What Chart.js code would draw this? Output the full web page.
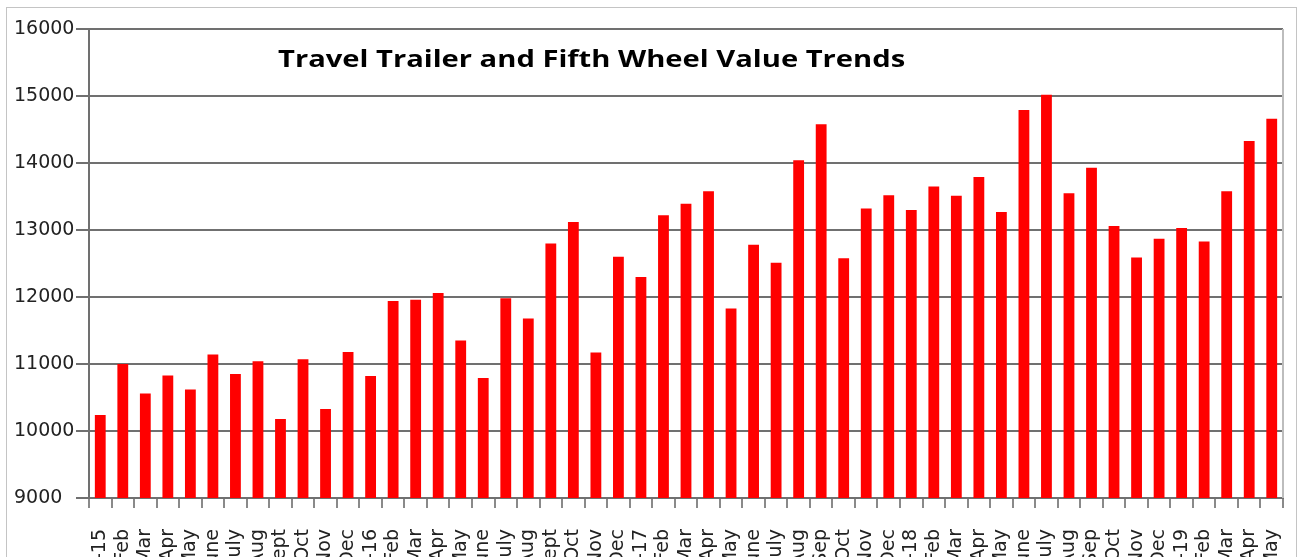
<!DOCTYPE html>
<html>
<head>
<meta charset="utf-8">
<title>Travel Trailer and Fifth Wheel Value Trends</title>
<script src="https://cdn.jsdelivr.net/npm/chart.js@4/dist/chart.umd.min.js"></script>
<style>
  html, body { margin: 0; padding: 0; background: #fff; overflow: hidden; }
  #wrap { position: absolute; left: 0; top: 0; width: 1298px; height: 620px; }
</style>
</head>
<body>
<div id="wrap"><canvas id="chart"></canvas></div>
<script>
// month labels, Jan-15 .. May-19
const months = [
  'Jan-15', 'Feb', 'Mar', 'Apr', 'May', 'June', 'July', 'Aug', 'Sept', 'Oct', 'Nov', 'Dec',
  'Jan-16', 'Feb', 'Mar', 'Apr', 'May', 'June', 'July', 'Aug', 'Sept', 'Oct', 'Nov', 'Dec',
  'Jan-17', 'Feb', 'Mar', 'Apr', 'May', 'June', 'July', 'Aug', 'Sep', 'Oct', 'Nov', 'Dec',
  'Jan-18', 'Feb', 'Mar', 'Apr', 'May', 'June', 'July', 'Aug', 'Sep', 'Oct', 'Nov', 'Dec',
  'Jan-19', 'Feb', 'Mar', 'Apr', 'May'
];

// average value per month
const values = [
  10240, 11000, 10560, 10830, 10620, 11140, 10850, 11040, 10180, 11070, 10330, 11180,
  10820, 11940, 11960, 12060, 11350, 10790, 11980, 11680, 12800, 13120, 11170, 12600,
  12300, 13220, 13390, 13580, 11830, 12780, 12510, 14040, 14580, 12580, 13320, 13520,
  13300, 13650, 13510, 13790, 13270, 14790, 15020, 13550, 13930, 13060, 12590, 12870,
  13030, 12830, 13580, 14330, 14660
];

const yMin = 9000;
const yMax = 16000;
const yStep = 1000;

const chartTitle = 'Travel Trailer and Fifth Wheel Value Trends';

// frame + in-plot title, excel style
const framePlugin = {
  id: 'frame',
  beforeDraw(chart) {
    const ctx = chart.ctx;
    ctx.save();
    ctx.strokeStyle = '#c4c4c4';
    ctx.lineWidth = 1;
    ctx.strokeRect(6.5, 7.5, 1290, 700);
    ctx.restore();
  },
  afterDraw(chart) {
    const ctx = chart.ctx;
    const area = chart.chartArea;
    ctx.save();
    ctx.strokeStyle = '#bdbdbd';
    ctx.lineWidth = 2;
    ctx.beginPath();
    ctx.moveTo(area.right, area.top);
    ctx.lineTo(area.right, area.bottom);
    ctx.stroke();

    // the original title is a bit wider than the font, stretch it
    ctx.fillStyle = '#000';
    ctx.font = 'bold 24px "Open Sans"';
    ctx.textAlign = 'left';
    ctx.textBaseline = 'alphabetic';
    ctx.translate(278, 67);
    ctx.scale(1.215, 1);
    ctx.fillText(chartTitle, 0, 0);
    ctx.restore();
  }
};

const canvas = document.getElementById('chart');

new Chart(canvas, {
  type: 'bar',
  data: {
    labels: months,
    datasets: [{
      data: values,
      backgroundColor: '#ff0000',
      borderWidth: 0,
      categoryPercentage: 1,
      barPercentage: 0.48
    }]
  },
  options: {
    responsive: true,
    maintainAspectRatio: false,
    animation: false,
    layout: {
      padding: { left: 14, right: 15, top: 29, bottom: 22 }
    },
    plugins: {
      legend: { display: false },
      title: { display: false },
      tooltip: { enabled: false }
    },
    scales: {
      x: {
        afterFit(scale) {
          scale.height = 100;
          // labels get clipped anyway, don't let them shrink the plot
          scale.paddingLeft = 0;
          scale.paddingRight = 0;
        },
        grid: {
          offset: true,
          drawOnChartArea: false,
          drawTicks: true,
          tickLength: 10,
          color: '#8a8a8a',
          lineWidth: 2
        },
        border: { display: true, color: '#707070', width: 2 },
        ticks: {
          autoSkip: false,
          minRotation: 90,
          maxRotation: 90,
          padding: 21,
          color: '#222',
          font: { family: 'DejaVu Sans', size: 19 }
        }
      },
      y: {
        min: yMin,
        max: yMax,
        afterFit(scale) { scale.width = 75; },
        grid: {
          color: '#707070',
          lineWidth: 2,
          tickLength: 13
        },
        border: { display: true, color: '#707070', width: 2 },
        ticks: {
          stepSize: yStep,
          crossAlign: 'far',
          color: '#222',
          font: { family: 'DejaVu Sans', size: 19 },
          callback: (v) => String(v)
        }
      }
    }
  },
  plugins: [framePlugin]
});
</script>
</body>
</html>
